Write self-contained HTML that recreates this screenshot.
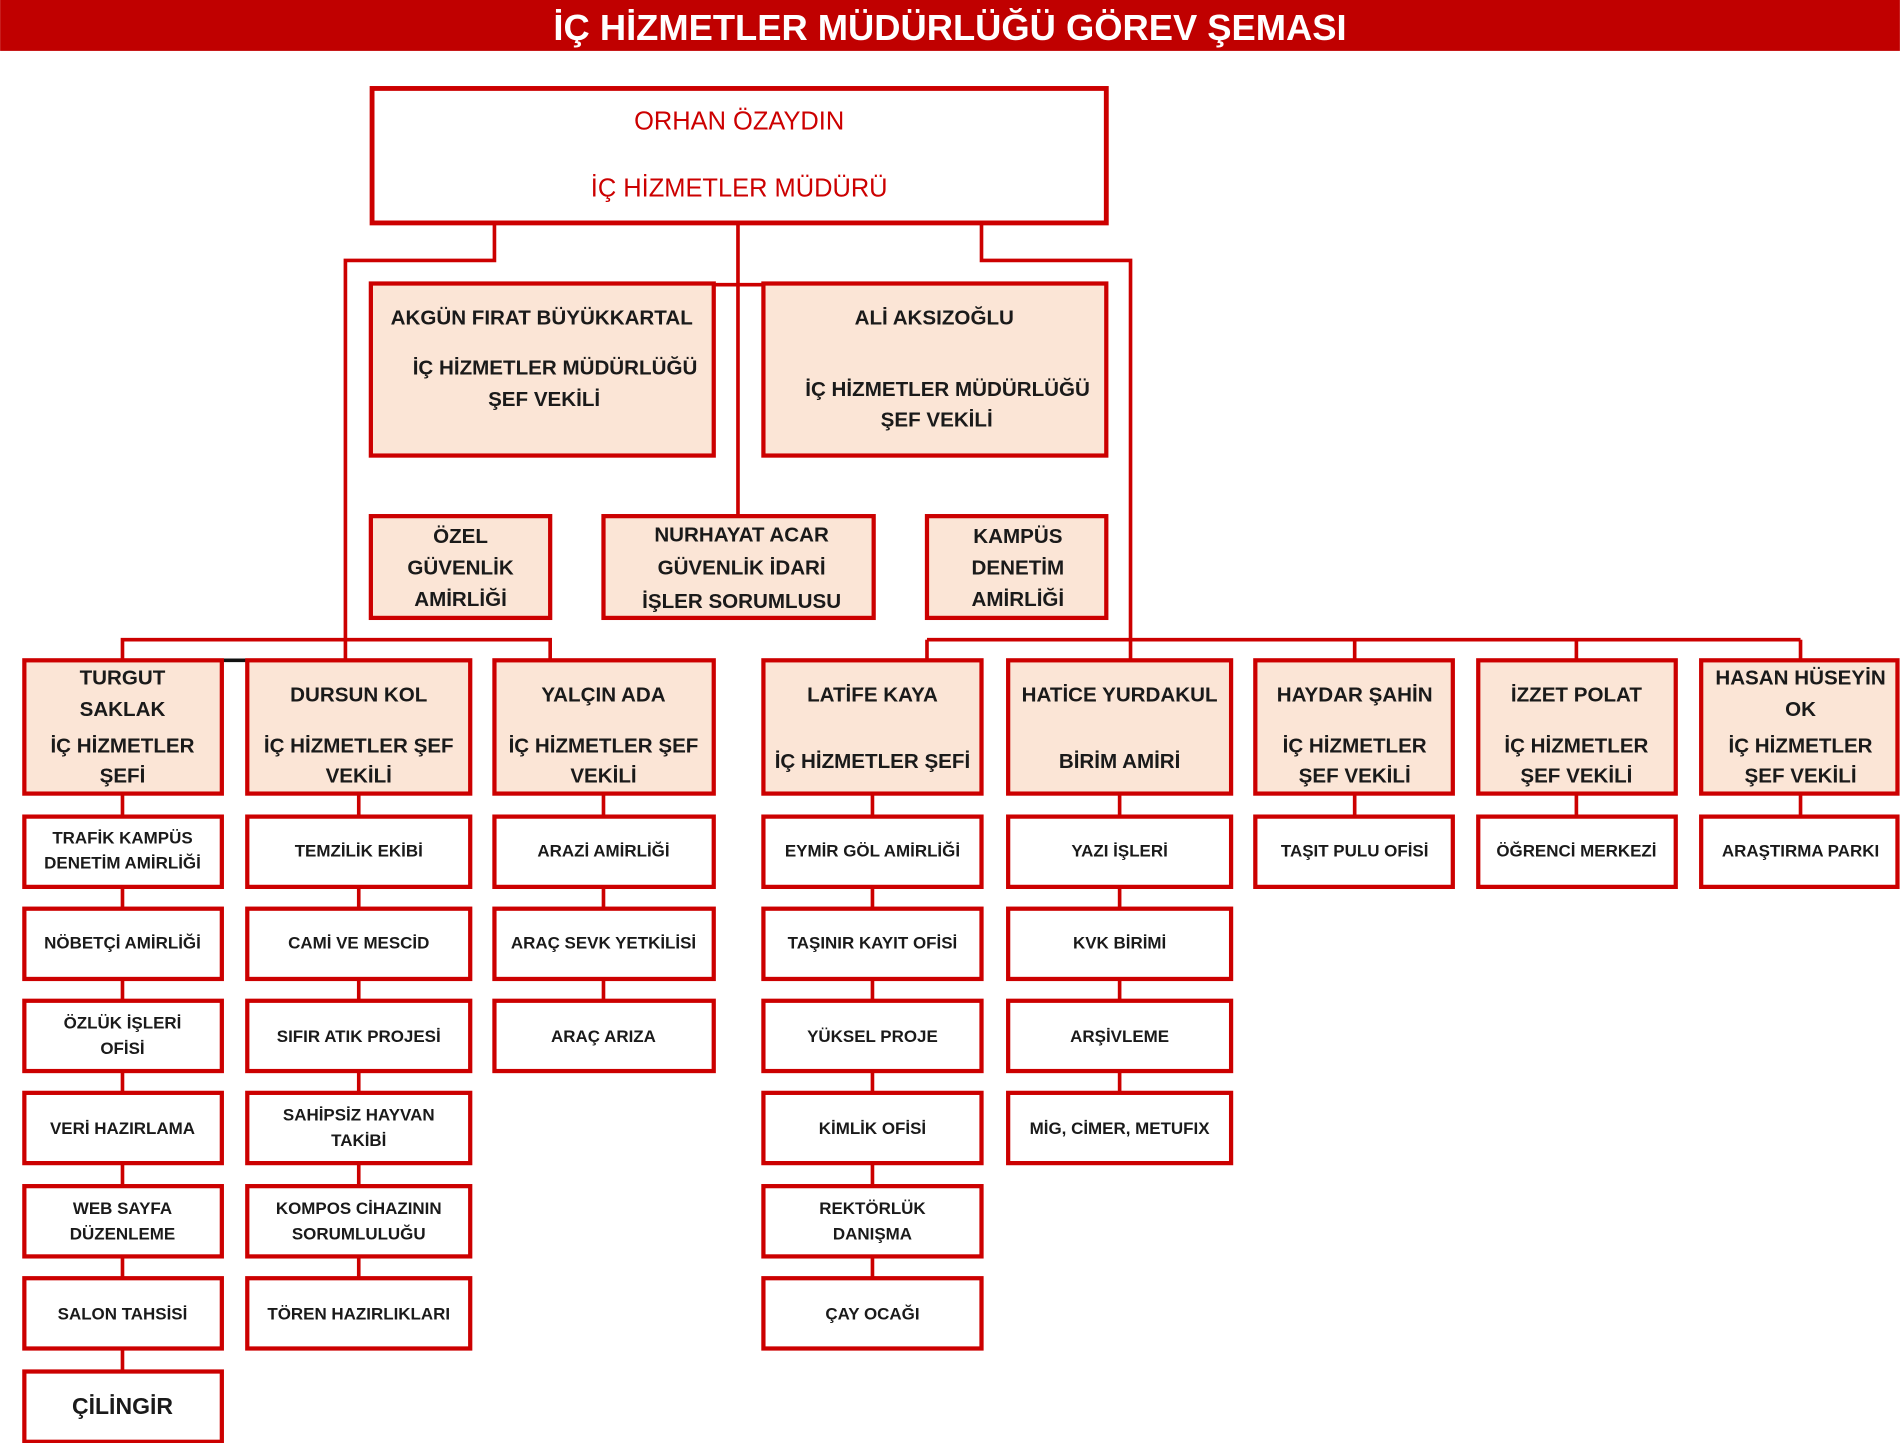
<!DOCTYPE html>
<html><head><meta charset="utf-8"><style>
html,body{margin:0;padding:0;background:#fff;width:1900px;height:1443px;overflow:hidden}
svg{display:block}
text{font-family:"Liberation Sans",Arial,sans-serif;font-weight:bold;text-anchor:middle;fill:#1a1a1a}
.h{font-size:17px}
.s{font-size:14px}
.r{fill:#cc0000;font-weight:normal;font-size:21px}
.bx{stroke:#cc0000;stroke-width:3.5}
.p{fill:#fbe5d6}
.w{fill:#fff}
.ln{stroke:#cc0000;stroke-width:3;fill:none}
</style></head><body>
<svg width="1900" height="1443" viewBox="0 0 1568 1191" xmlns="http://www.w3.org/2000/svg">
<rect x="0" y="0" width="1568" height="42" fill="#c00000"/>
<text x="784" y="33" style="font-size:30px;fill:#fff">İÇ HİZMETLER MÜDÜRLÜĞÜ GÖREV ŞEMASI</text>

<!-- connectors -->
<g class="ln">
<polyline points="408,184 408,215 285,215 285,528"/>
<polyline points="810,184 810,215 933,215 933,528"/>
<line x1="609" y1="184" x2="609" y2="425"/>
<line x1="306" y1="235" x2="914" y2="235"/>
<polyline points="101,544 101,528 454,528 454,544"/>
<line x1="285" y1="528" x2="285" y2="544"/>
<line x1="765" y1="528" x2="1486" y2="528"/>
<line x1="765" y1="528" x2="765" y2="544"/>
<line x1="933" y1="528" x2="933" y2="544"/>
<line x1="1118" y1="528" x2="1118" y2="544"/>
<line x1="1301" y1="528" x2="1301" y2="544"/>
<line x1="1486" y1="528" x2="1486" y2="544"/>
<line x1="101" y1="655" x2="101" y2="1131"/>
<line x1="296" y1="655" x2="296" y2="1054"/>
<line x1="498" y1="655" x2="498" y2="825"/>
<line x1="720" y1="655" x2="720" y2="1054"/>
<line x1="924" y1="655" x2="924" y2="901"/>
<line x1="1118" y1="655" x2="1118" y2="673"/>
<line x1="1301" y1="655" x2="1301" y2="673"/>
<line x1="1486" y1="655" x2="1486" y2="673"/>
</g>
<line x1="183" y1="545" x2="204" y2="545" stroke="#111" stroke-width="3"/>

<!-- top -->
<rect class="bx w" x="307" y="73" width="606" height="111" style="stroke-width:4"/>
<text class="r" x="610" y="107">ORHAN ÖZAYDIN</text>
<text class="r" x="610" y="162">İÇ HİZMETLER MÜDÜRÜ</text>

<rect class="bx p" x="306" y="234" width="283" height="142"/>
<text class="h" x="447" y="268">AKGÜN FIRAT BÜYÜKKARTAL</text>
<text class="h" x="458" y="309">İÇ HİZMETLER MÜDÜRLÜĞÜ</text>
<text class="h" x="449" y="335">ŞEF VEKİLİ</text>
<rect class="bx p" x="630" y="234" width="283" height="142"/>
<text class="h" x="771" y="268">ALİ AKSIZOĞLU</text>
<text class="h" x="782" y="327">İÇ HİZMETLER MÜDÜRLÜĞÜ</text>
<text class="h" x="773" y="352">ŞEF VEKİLİ</text>

<rect class="bx p" x="306" y="426" width="148" height="84"/>
<text class="h" x="380" y="448">ÖZEL</text>
<text class="h" x="380" y="474">GÜVENLİK</text>
<text class="h" x="380" y="500">AMİRLİĞİ</text>
<rect class="bx p" x="498" y="426" width="223" height="84"/>
<text class="h" x="612" y="447">NURHAYAT ACAR</text>
<text class="h" x="612" y="474">GÜVENLİK İDARİ</text>
<text class="h" x="612" y="502">İŞLER SORUMLUSU</text>
<rect class="bx p" x="765" y="426" width="148" height="84"/>
<text class="h" x="840" y="448">KAMPÜS</text>
<text class="h" x="840" y="474">DENETİM</text>
<text class="h" x="840" y="500">AMİRLİĞİ</text>

<!-- heads -->
<g class="bx p">
<rect x="20" y="545" width="163" height="110"/>
<rect x="204" y="545" width="184" height="110"/>
<rect x="408" y="545" width="181" height="110"/>
<rect x="630" y="545" width="180" height="110"/>
<rect x="832" y="545" width="184" height="110"/>
<rect x="1036" y="545" width="163" height="110"/>
<rect x="1220" y="545" width="163" height="110"/>
<rect x="1404" y="545" width="162" height="110"/>
</g>
<g class="h">
<text x="101" y="565">TURGUT</text><text x="101" y="591">SAKLAK</text><text x="101" y="621">İÇ HİZMETLER</text><text x="101" y="646">ŞEFİ</text>
<text x="296" y="579">DURSUN KOL</text><text x="296" y="621">İÇ HİZMETLER ŞEF</text><text x="296" y="646">VEKİLİ</text>
<text x="498" y="579">YALÇIN ADA</text><text x="498" y="621">İÇ HİZMETLER ŞEF</text><text x="498" y="646">VEKİLİ</text>
<text x="720" y="579">LATİFE KAYA</text><text x="720" y="634">İÇ HİZMETLER ŞEFİ</text>
<text x="924" y="579">HATİCE YURDAKUL</text><text x="924" y="634">BİRİM AMİRİ</text>
<text x="1118" y="579">HAYDAR ŞAHİN</text><text x="1118" y="621">İÇ HİZMETLER</text><text x="1118" y="646">ŞEF VEKİLİ</text>
<text x="1301" y="579">İZZET POLAT</text><text x="1301" y="621">İÇ HİZMETLER</text><text x="1301" y="646">ŞEF VEKİLİ</text>
<text x="1486" y="565">HASAN HÜSEYİN</text><text x="1486" y="591">OK</text><text x="1486" y="621">İÇ HİZMETLER</text><text x="1486" y="646">ŞEF VEKİLİ</text>
</g>

<!-- subs -->
<g class="bx w">
<rect x="20" y="674" width="163" height="58"/><rect x="20" y="750" width="163" height="58"/><rect x="20" y="826" width="163" height="58"/><rect x="20" y="902" width="163" height="58"/><rect x="20" y="979" width="163" height="58"/><rect x="20" y="1055" width="163" height="58"/><rect x="20" y="1132" width="163" height="58"/>
<rect x="204" y="674" width="184" height="58"/><rect x="204" y="750" width="184" height="58"/><rect x="204" y="826" width="184" height="58"/><rect x="204" y="902" width="184" height="58"/><rect x="204" y="979" width="184" height="58"/><rect x="204" y="1055" width="184" height="58"/>
<rect x="408" y="674" width="181" height="58"/><rect x="408" y="750" width="181" height="58"/><rect x="408" y="826" width="181" height="58"/>
<rect x="630" y="674" width="180" height="58"/><rect x="630" y="750" width="180" height="58"/><rect x="630" y="826" width="180" height="58"/><rect x="630" y="902" width="180" height="58"/><rect x="630" y="979" width="180" height="58"/><rect x="630" y="1055" width="180" height="58"/>
<rect x="832" y="674" width="184" height="58"/><rect x="832" y="750" width="184" height="58"/><rect x="832" y="826" width="184" height="58"/><rect x="832" y="902" width="184" height="58"/>
<rect x="1036" y="674" width="163" height="58"/><rect x="1220" y="674" width="163" height="58"/><rect x="1404" y="674" width="162" height="58"/>
</g>
<g class="s">
<text x="101" y="696">TRAFİK KAMPÜS</text><text x="101" y="717">DENETİM AMİRLİĞİ</text>
<text x="101" y="783">NÖBETÇİ AMİRLİĞİ</text>
<text x="101" y="849">ÖZLÜK İŞLERİ</text><text x="101" y="870">OFİSİ</text>
<text x="101" y="936">VERİ HAZIRLAMA</text>
<text x="101" y="1002">WEB SAYFA</text><text x="101" y="1023">DÜZENLEME</text>
<text x="101" y="1089">SALON TAHSİSİ</text>
<text x="101" y="1167" style="font-size:19px">ÇİLİNGİR</text>
<text x="296" y="707">TEMZİLİK EKİBİ</text>
<text x="296" y="783">CAMİ VE MESCİD</text>
<text x="296" y="860">SIFIR ATIK PROJESİ</text>
<text x="296" y="925">SAHİPSİZ HAYVAN</text><text x="296" y="946">TAKİBİ</text>
<text x="296" y="1002">KOMPOS CİHAZININ</text><text x="296" y="1023">SORUMLULUĞU</text>
<text x="296" y="1089">TÖREN HAZIRLIKLARI</text>
<text x="498" y="707">ARAZİ AMİRLİĞİ</text>
<text x="498" y="783">ARAÇ SEVK YETKİLİSİ</text>
<text x="498" y="860">ARAÇ ARIZA</text>
<text x="720" y="707">EYMİR GÖL AMİRLİĞİ</text>
<text x="720" y="783">TAŞINIR KAYIT OFİSİ</text>
<text x="720" y="860">YÜKSEL PROJE</text>
<text x="720" y="936">KİMLİK OFİSİ</text>
<text x="720" y="1002">REKTÖRLÜK</text><text x="720" y="1023">DANIŞMA</text>
<text x="720" y="1089">ÇAY OCAĞI</text>
<text x="924" y="707">YAZI İŞLERİ</text>
<text x="924" y="783">KVK BİRİMİ</text>
<text x="924" y="860">ARŞİVLEME</text>
<text x="924" y="936">MİG, CİMER, METUFIX</text>
<text x="1118" y="707">TAŞIT PULU OFİSİ</text>
<text x="1301" y="707">ÖĞRENCİ MERKEZİ</text>
<text x="1486" y="707">ARAŞTIRMA PARKI</text>
</g>
</svg>
</body></html>
